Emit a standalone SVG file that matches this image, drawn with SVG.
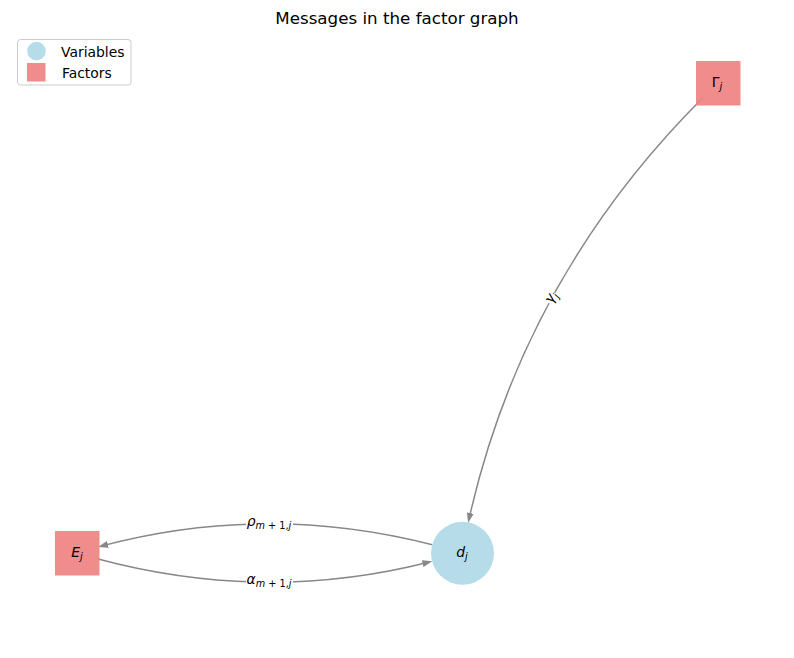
<svg xmlns="http://www.w3.org/2000/svg" width="794" height="658" viewBox="0 0 794 658">
<style>
text{font-family:"DejaVu Sans","Liberation Sans",sans-serif;fill:#000}
.edge{fill:none;stroke:#888;stroke-width:1.5}
.fac{fill:#f08080;opacity:0.9}
.var{fill:#add8e6;opacity:0.9}
.lbl{font-size:13.9px}
.sub{font-size:9.7px}
.it{font-style:italic}
.lbox{fill:#fff}
</style>
<defs>
<marker id="arr" viewBox="0 0 10 7" refX="7" refY="3.5" markerWidth="10" markerHeight="7" markerUnits="userSpaceOnUse" orient="auto">
<path d="M0,0 L10,3.5 L0,7 z" fill="#888"/>
</marker>
</defs>
<rect width="794" height="658" fill="#fff"/>
<text x="397" y="24" text-anchor="middle" font-size="16.7">Messages in the factor graph</text>
<g id="legend">
<rect x="17.5" y="39.5" width="113.5" height="45.5" rx="3" fill="#fff" stroke="#ccc" stroke-width="1"/>
<circle cx="36.5" cy="51" r="9.3" class="var"/>
<rect x="27" y="63" width="18.5" height="18.5" class="fac"/>
<text x="61" y="56.5" font-size="13.9">Variables</text>
<text x="62" y="77.5" font-size="13.9">Factors</text>
</g>
<g id="connectors">
<path class="edge" d="M701.9,98.8 Q522.9,278.1 468.8,519.9" marker-end="url(#arr)"/>
<path class="edge" d="M432.3,544.8 Q265.2,502.2 101.1,546.1" marker-end="url(#arr)"/>
<path class="edge" d="M98.05,559 Q265.2,603.8 429.4,561.9" marker-end="url(#arr)"/>
<g transform="translate(552,298) rotate(-61.4)">
<rect x="-6" y="-5" width="12" height="10" rx="3" class="lbox"/>
<text x="0" y="3" text-anchor="middle" class="lbl"><tspan class="it">γ</tspan><tspan class="sub it" dy="3">j</tspan></text>
</g>
<rect x="246" y="516" width="47" height="15" rx="4" class="lbox"/>
<text x="269" y="526" text-anchor="middle" class="lbl"><tspan class="it">ρ</tspan><tspan class="sub" dy="3"><tspan class="it">m</tspan> + 1,<tspan class="it">j</tspan></tspan></text>
<rect x="246" y="574" width="47" height="15" rx="4" class="lbox"/>
<text x="269" y="584" text-anchor="middle" class="lbl"><tspan class="it">α</tspan><tspan class="sub" dy="3"><tspan class="it">m</tspan> + 1,<tspan class="it">j</tspan></tspan></text>
</g>
<g id="node-Gamma">
<rect x="696" y="61" width="44.5" height="44.5" class="fac"/>
<text x="717" y="87" text-anchor="middle" class="lbl">Γ<tspan class="sub it" dy="3">j</tspan></text>
</g>
<g id="node-E">
<rect x="55" y="531" width="44.5" height="44.5" class="fac"/>
<text x="77" y="557" text-anchor="middle" class="lbl"><tspan class="it">E</tspan><tspan class="sub it" dy="3">j</tspan></text>
</g>
<g id="node-d">
<circle cx="462.5" cy="553.3" r="31.5" class="var"/>
<text x="462" y="557" text-anchor="middle" class="lbl"><tspan class="it">d</tspan><tspan class="sub it" dy="3">j</tspan></text>
</g>
</svg>
